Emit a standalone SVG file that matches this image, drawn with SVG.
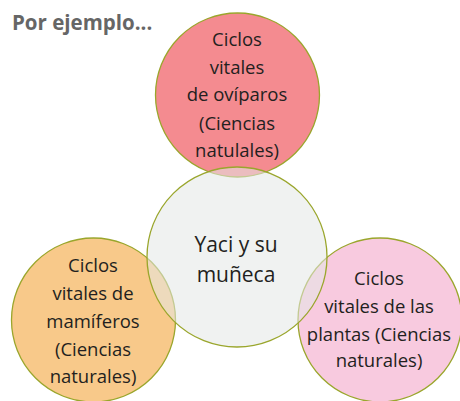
<svg xmlns="http://www.w3.org/2000/svg" width="460" height="401" viewBox="0 0 460 401">
<style>
.c{stroke:#9aa62c;stroke-width:1.3}
.t{font-family:"Open Sans","Noto Sans",sans-serif;font-size:18.5px;fill:#231f20;text-anchor:middle}
.tc{font-size:21px}
.title{font-family:"Open Sans","Noto Sans",sans-serif;font-size:20.5px;font-weight:bold;fill:#666}
</style>
<rect width="460" height="401" fill="#fff"/>
<text class="title" x="12" y="30">Por ejemplo...</text>
<g id="top">
<circle class="c" cx="237.5" cy="95" r="82" fill="#f48b90"/>
<text class="t" x="237" y="46">Ciclos</text>
<text class="t" x="237" y="74">vitales</text>
<text class="t" x="237" y="101">de ovíparos</text>
<text class="t" x="237" y="130">(Ciencias</text>
<text class="t" x="237" y="157">natulales)</text>
</g>
<g id="left">
<circle class="c" cx="93.5" cy="320" r="82" fill="#f8c98a"/>
<text class="t" x="93" y="272">Ciclos</text>
<text class="t" x="93" y="300">vitales de</text>
<text class="t" x="93" y="328">mamíferos</text>
<text class="t" x="93" y="356">(Ciencias</text>
<text class="t" x="93" y="383">naturales)</text>
</g>
<g id="right">
<circle class="c" cx="380" cy="320" r="82" fill="#f8cadf"/>
<text class="t" x="379" y="285">Ciclos</text>
<text class="t" x="379" y="313">vitales de las</text>
<text class="t" x="379" y="341">plantas (Ciencias</text>
<text class="t" x="379" y="367">naturales)</text>
</g>
<g id="center">
<circle class="c" cx="237" cy="257" r="90" fill="#e4e7e6" fill-opacity="0.55"/>
<text class="t tc" x="236" y="252">Yaci y su</text>
<text class="t tc" x="236" y="282">muñeca</text>
</g>
<g id="connectors"></g>
</svg>
